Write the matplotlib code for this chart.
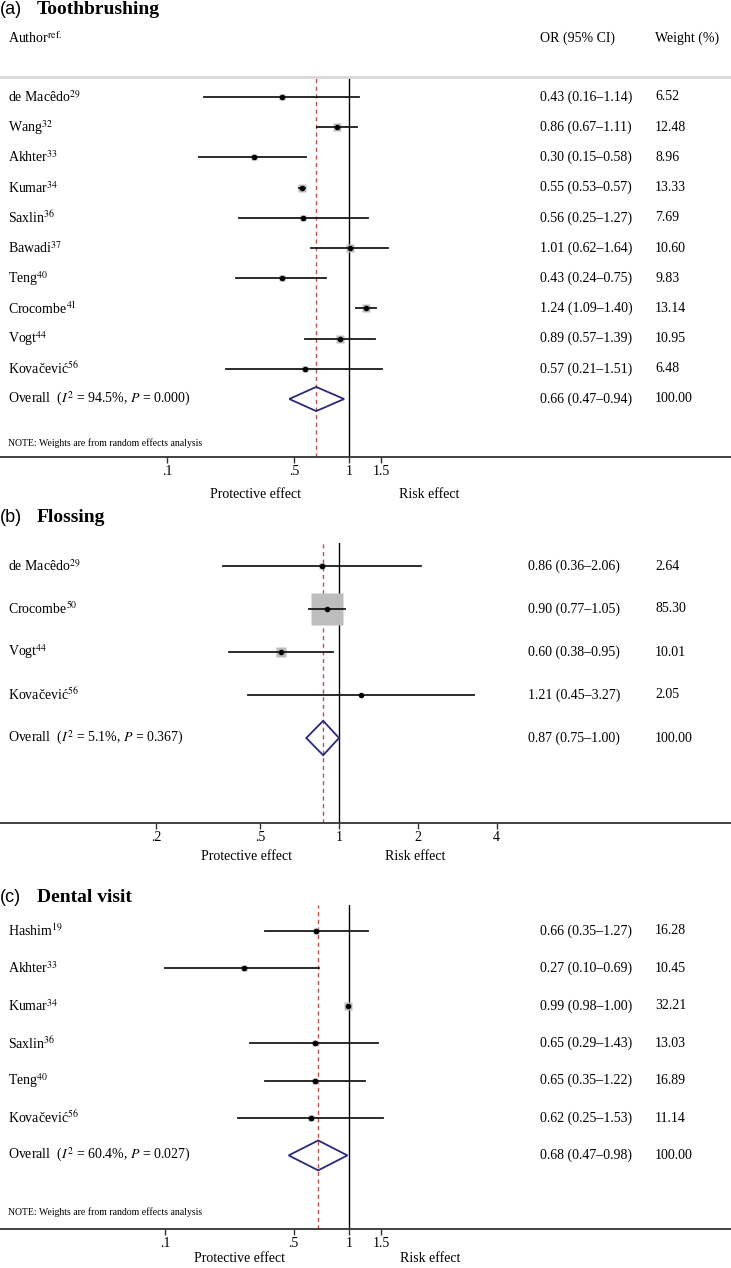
"""Forest plots: (a) toothbrushing, (b) flossing, (c) dental visit."""
import matplotlib
matplotlib.use("Agg")
import matplotlib.pyplot as plt
import numpy as np
from matplotlib.patches import Polygon

W, H = 731, 1268
SERIF = "Liberation Serif"
SANS = "Liberation Sans"
plt.rcParams["font.family"] = [SERIF, "DejaVu Serif"]
plt.rcParams["mathtext.fontset"] = "stix"

# ---- data -------------------------------------------------------------
a_names = ["de Macêdo", "Wang", "Akhter", "Kumar", "Saxlin", "Bawadi", "Teng",
           "Crocombe", "Vogt", "Kovačević"]
a_refs = ["29", "32", "33", "34", "36", "37", "40", "41", "44", "56"]
a_or = [0.43, 0.86, 0.30, 0.55, 0.56, 1.01, 0.43, 1.24, 0.89, 0.57]
a_lo = [0.16, 0.67, 0.15, 0.53, 0.25, 0.62, 0.24, 1.09, 0.57, 0.21]
a_hi = [1.14, 1.11, 0.58, 0.57, 1.27, 1.64, 0.75, 1.40, 1.39, 1.51]
a_w = [6.52, 12.48, 8.96, 13.33, 7.69, 10.60, 9.83, 13.14, 10.95, 6.48]
a_overall = (0.66, 0.47, 0.94)
a_het = ("94.5", "0.000")
a_ticks = [0.1, 0.5, 1, 1.5]
a_ticklabels = [".1", ".5", "1", "1.5"]

b_names = ["de Macêdo", "Crocombe", "Vogt", "Kovačević"]
b_refs = ["29", "50", "44", "56"]
b_or = [0.86, 0.90, 0.60, 1.21]
b_lo = [0.36, 0.77, 0.38, 0.45]
b_hi = [2.06, 1.05, 0.95, 3.27]
b_w = [2.64, 85.30, 10.01, 2.05]
b_overall = (0.87, 0.75, 1.00)
b_het = ("5.1", "0.367")
b_ticks = [0.2, 0.5, 1, 2, 4]
b_ticklabels = [".2", ".5", "1", "2", "4"]

c_names = ["Hashim", "Akhter", "Kumar", "Saxlin", "Teng", "Kovačević"]
c_refs = ["19", "33", "34", "36", "40", "56"]
c_or = [0.66, 0.27, 0.99, 0.65, 0.65, 0.62]
c_lo = [0.35, 0.10, 0.98, 0.29, 0.35, 0.25]
c_hi = [1.27, 0.69, 1.00, 1.43, 1.22, 1.53]
c_w = [16.28, 10.45, 32.21, 13.03, 16.89, 11.14]
c_overall = (0.68, 0.47, 0.98)
c_het = ("60.4", "0.027")
c_ticks = [0.1, 0.5, 1, 1.5]
c_ticklabels = [".1", ".5", "1", "1.5"]

fig = plt.figure(figsize=(W / 100, H / 100), dpi=100)


def ftxt(x, y, s, **kw):
    """Text placed in figure pixels (from top-left)."""
    kw.setdefault("fontsize", 10)
    kw.setdefault("va", "center")
    fig.text(x / W, 1 - y / H, s, **kw)


def panel(letter, title, title_y, names, refs, ors, los, his, ws, overall, het,
          ticks, ticklabels, top, row0, step, bottom, x1px, decade, sq,
          or_x, note, header=False, eff_y=None, eff_x=(256, 429)):
    n = len(names)
    ax = fig.add_axes([0, 1 - bottom / H, 1, (bottom - top) / H])
    ax.set_xscale("log")
    ax.set_xlim(10 ** (-x1px / decade), 10 ** ((W - x1px) / decade))
    ax.set_ylim((bottom - row0) / step, (top - row0) / step)
    for s in ["left", "right"]:
        ax.spines[s].set_visible(False)
    ax.spines["bottom"].set_color("#333333")
    ax.spines["bottom"].set_linewidth(1.3)
    if header:
        ax.spines["top"].set_color("#d8d8d8")
        ax.spines["top"].set_linewidth(2)
    else:
        ax.spines["top"].set_visible(False)
    ax.set_yticks([])
    ax.xaxis.set_minor_locator(matplotlib.ticker.NullLocator())
    ax.set_xticks(ticks)
    ax.set_xticklabels(ticklabels, fontsize=10, family=SERIF)
    ax.tick_params(axis="x", length=4, width=1, color="#333333", pad=2)

    ax.axvline(1, color="black", lw=1.0, zorder=1)
    ax.axvline(overall[0], color="#c0504d", lw=1.0, ls=(0, (3, 2.5)), zorder=1)

    wmax = max(ws)
    for i in range(n):
        side = sq * np.sqrt(ws[i] / wmax)
        ax.plot(ors[i], i, marker="s", ms=side / 1.389, mfc="#bdbdbd",
                mec="none", zorder=2)
        ax.plot([los[i], his[i]], [i, i], color="#1a1a1a", lw=1.3, zorder=3)
        ax.plot(ors[i], i, marker="o", ms=3, color="black", zorder=4)
        ftxt(8, row0 + step * i, names[i] + "$^{" + refs[i] + "}$")
        ftxt(or_x, row0 + step * i,
             f"{ors[i]:.2f} ({los[i]:.2f}\u2013{his[i]:.2f})")
        ftxt(655, row0 + step * i, f"{ws[i]:.2f}")

    # overall diamond
    est, lo, hi = overall
    d = Polygon([(lo, n), (est, n - 0.4), (hi, n), (est, n + 0.4)],
                closed=True, fill=False, edgecolor="#2b2a7a", lw=1.3, zorder=5)
    ax.add_patch(d)
    ftxt(8, row0 + step * n,
         "Overall  ($I^2$ = " + het[0] + "%, $P$ = " + het[1] + ")")
    ftxt(or_x, row0 + step * n, f"{est:.2f} ({lo:.2f}\u2013{hi:.2f})")
    ftxt(655, row0 + step * n, "100.00")

    if note is not None:
        ftxt(8, note, "NOTE: Weights are from random effects analysis",
             fontsize=7)

    # titles
    ftxt(0, title_y, letter, family=SANS, fontsize=13)
    ftxt(37, title_y, title, fontsize=14, fontweight="bold")
    if header:
        ftxt(8, 38, "Author$^{\\mathrm{ref.}}$")
        ftxt(540, 38, "OR (95% CI)")
        ftxt(655, 38, "Weight (%)")
    ftxt(eff_x[0], eff_y, "Protective effect", ha="center")
    ftxt(eff_x[1], eff_y, "Risk effect", ha="center")
    return ax


panel("(a)", "Toothbrushing", 10, a_names, a_refs, a_or, a_lo, a_hi, a_w,
      a_overall, a_het, a_ticks, a_ticklabels,
      top=77, row0=97, step=30.2, bottom=457, x1px=349, decade=182, sq=8,
      or_x=540, note=443, header=True, eff_y=494, eff_x=(256, 429))

panel("(b)", "Flossing", 518, b_names, b_refs, b_or, b_lo, b_hi, b_w,
      b_overall, b_het, b_ticks, b_ticklabels,
      top=543, row0=566, step=43, bottom=823, x1px=339, decade=262, sq=32,
      or_x=528, note=None, eff_y=857, eff_x=(246, 415))

panel("(c)", "Dental visit", 898, c_names, c_refs, c_or, c_lo, c_hi, c_w,
      c_overall, c_het, c_ticks, c_ticklabels,
      top=905, row0=931, step=37.4, bottom=1229, x1px=349, decade=184, sq=9,
      or_x=540, note=1212, eff_y=1259, eff_x=(240, 430))

fig.savefig("out.png", dpi=100, facecolor="white")
